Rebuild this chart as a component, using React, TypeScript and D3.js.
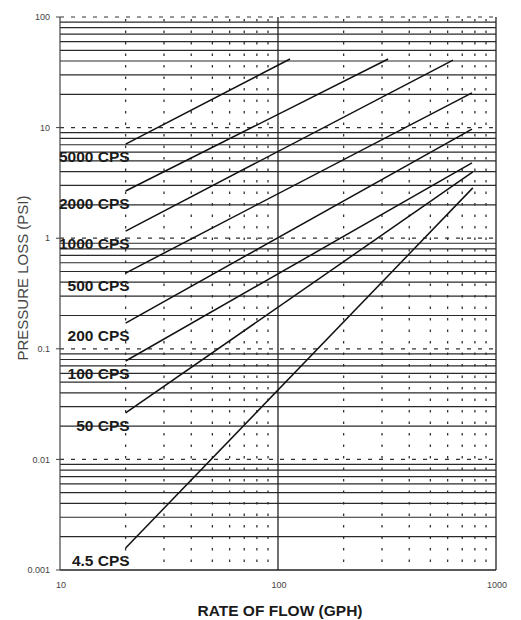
import React from "react";
import * as d3 from "d3";

// ---- data ----
const seriesNames = ["5000 CPS", "2000 CPS", "1000 CPS", "500 CPS", "200 CPS", "100 CPS", "50 CPS", "4.5 CPS"];
const startFlow = [20, 20, 20, 20, 20, 20, 20, 20];
const startLoss = [7.1, 2.67, 1.16, 0.484, 0.171, 0.0776, 0.0263, 0.00158];
const endFlow = [113.5, 320, 635, 776, 776, 776, 783, 783];
const endLoss = [41.7, 41.7, 40.8, 20.6, 9.7, 4.79, 3.97, 2.85];

const xDecades = [10, 100, 1000];
const xTickLabels = ["10", "100", "1000"];
const yDecades = [0.001, 0.01, 0.1, 1, 10, 100];
const yTickLabels = ["0.001", "0.01", "0.1", "1", "10", "100"];

const xTitle = "RATE OF FLOW (GPH)";
const yTitle = "PRESSURE LOSS (PSI)";

const W = 521;
const H = 620;
const L = 60, R = 496, T = 17, B = 570;
const FONT = "'Liberation Sans', Arial, sans-serif";

export default function App() {
  const x = d3.scaleLog().domain([10, 1000]).range([L, R]);
  const y = d3.scaleLog().domain([0.001, 100]).range([B, T]);

  const isDecade = (v: number) => Math.abs(Math.log10(v) - Math.round(Math.log10(v))) < 1e-6;
  const yMinor = y.ticks().filter((v) => !isDecade(v));
  const xMinor = x.ticks().filter((v) => !isDecade(v));

  const line = d3
    .line<[number, number]>()
    .x((d) => x(d[0]))
    .y((d) => y(d[1]));

  return (
    <svg
      width={W}
      height={H}
      style={{ position: "absolute", left: 0, top: 0, background: "#fff" }}
      fontFamily={FONT}
    >
      <rect x={0} y={0} width={W} height={H} fill="#fff" />
      {/* vertical dotted minor grid */}
      {xMinor.map((v, i) => (
        <line
          key={"xv" + i}
          x1={x(v)}
          x2={x(v)}
          y1={T + 2}
          y2={B}
          stroke="#333"
          strokeWidth={1.3}
          strokeDasharray="2.5 9"
        />
      ))}
      {/* horizontal minor grid (solid) */}
      {yMinor.map((v, i) => (
        <line
          key={"yh" + i}
          x1={L}
          x2={R}
          y1={y(v)}
          y2={y(v)}
          stroke="#2a2a2a"
          strokeWidth={1.2}
        />
      ))}
      {/* decade horizontal dashed lines */}
      {yDecades.slice(1).map((v, i) => (
        <line
          key={"yd" + i}
          x1={L}
          x2={R}
          y1={y(v)}
          y2={y(v)}
          stroke="#333"
          strokeWidth={1.2}
          strokeDasharray="4 7"
        />
      ))}
      {/* bottom axis */}
      <line x1={L} x2={R} y1={B} y2={B} stroke="#222" strokeWidth={1.4} />
      {/* left axis */}
      <line x1={L} x2={L} y1={T} y2={B} stroke="#444" strokeWidth={1.2} />
      {/* x=100 solid vertical */}
      <line x1={x(100)} x2={x(100)} y1={T} y2={B} stroke="#222" strokeWidth={1.3} />
      {/* right border */}
      <line x1={R} x2={R} y1={T} y2={B} stroke="#222" strokeWidth={1.3} />
      {/* y decade ticks */}
      {yDecades.map((v, i) => (
        <line key={"yt" + i} x1={L - 4} x2={L} y1={y(v)} y2={y(v)} stroke="#444" strokeWidth={1} />
      ))}
      {/* y tick labels */}
      {yDecades.map((v, i) => (
        <text
          key={"ytl" + i}
          x={L - 10}
          y={y(v)}
          dy="0.35em"
          textAnchor="end"
          fontSize={9}
          fill="#444"
        >
          {yTickLabels[i]}
        </text>
      ))}
      {/* x tick labels */}
      {xDecades.map((v, i) => (
        <text
          key={"xtl" + i}
          x={x(v) + 1}
          y={B + 18}
          textAnchor="middle"
          fontSize={9}
          fill="#444"
        >
          {xTickLabels[i]}
        </text>
      ))}
      {/* viscosity lines */}
      {seriesNames.map((name, i) => (
        <path
          key={"s" + i}
          d={line([
            [startFlow[i], startLoss[i]],
            [endFlow[i], endLoss[i]],
          ]) || ""}
          fill="none"
          stroke="#111"
          strokeWidth={1.5}
        />
      ))}
      {/* labels */}
      {seriesNames.map((name, i) => (
        <text
          key={"l" + i}
          x={x(startFlow[i]) + 4}
          y={y(startLoss[i]) + 18}
          textAnchor="end"
          fontSize={15.5}
          fontWeight="bold"
          fill="#1a1a1a"
        >
          {name}
        </text>
      ))}
      {/* axis titles */}
      <text
        x={280}
        y={616}
        textAnchor="middle"
        fontSize={15.5}
        fontWeight="bold"
        fill="#1a1a1a"
      >
        {xTitle}
      </text>
      <text
        transform={`translate(28, ${278}) rotate(-90)`}
        textAnchor="middle"
        fontSize={15}
        fill="#444"
      >
        {yTitle}
      </text>
    </svg>
  );
}
